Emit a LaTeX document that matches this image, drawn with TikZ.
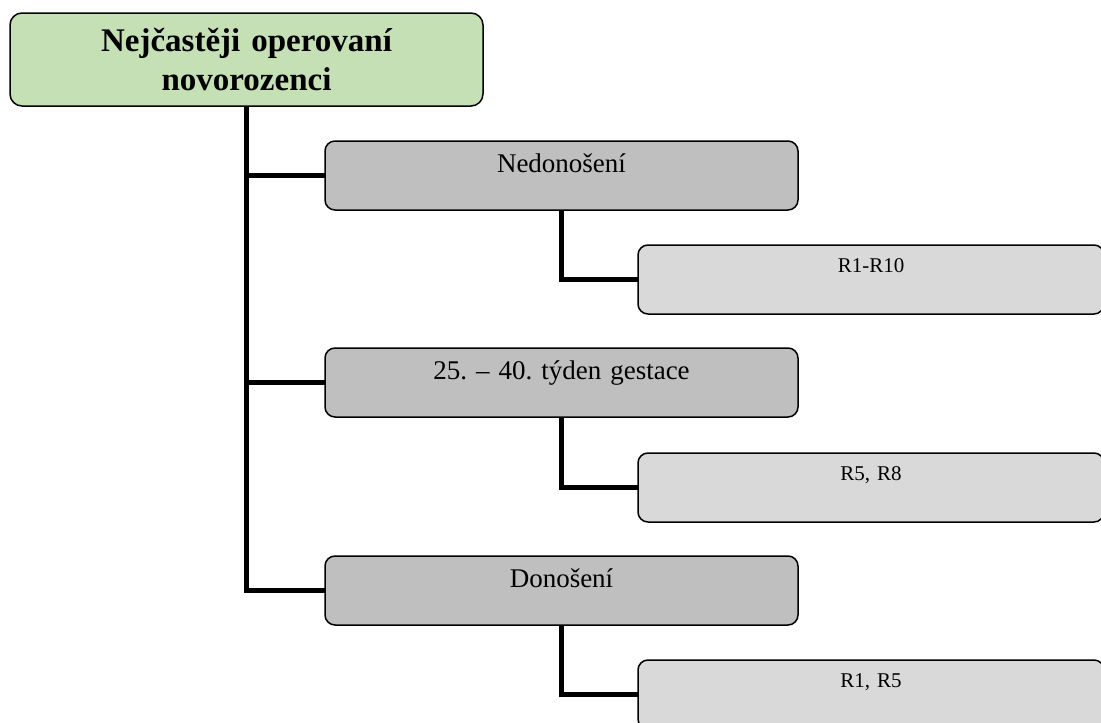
\documentclass[tikz,border=0pt]{standalone}
\usepackage{fontspec}
\setmainfont{Liberation Serif}
\definecolor{titlegreen}{HTML}{C5E0B4}
\definecolor{midgray}{HTML}{BFBFBF}
\definecolor{lightgray}{HTML}{D9D9D9}
\frenchspacing
\begin{document}
\begin{tikzpicture}[x=1pt,y=-1pt,
  every node/.style={inner sep=0pt, outer sep=0pt, anchor=north west, align=center},
  titlebox/.style={draw=black, line width=1.5pt, rounded corners=12pt, fill=titlegreen,
    minimum width=473pt, minimum height=93pt, text width=473pt,
    font=\fontsize{33}{39}\selectfont\bfseries},
  groupbox/.style={draw=black, line width=1.5pt, rounded corners=10pt, fill=midgray,
    minimum width=473pt, minimum height=69pt, text width=473pt,
    text height=31pt, text depth=38pt, font=\fontsize{27}{32}\selectfont},
  itembox/.style={draw=black, line width=1.5pt, rounded corners=10pt, fill=lightgray,
    minimum width=466pt, minimum height=69pt, text width=466pt,
    text height=27pt, text depth=42pt, font=\fontsize{21}{25}\selectfont},
  link/.style={draw=black, line width=5pt}]
\useasboundingbox (0,0) rectangle (1101,723);
\clip (0,0) rectangle (1101,723);

% root
\node[titlebox] (root) at (10,13) {Nejčastěji operovaní\\novorozenci};

% groups
\node[groupbox] (g1) at (325,141) {Nedonošení};
\node[groupbox] (g2) at (325,348) {25. – 40. týden gestace};
\node[groupbox] (g3) at (325,556) {Donošení};

% items
\node[itembox] (i1) at (638,245) {R1-R10};
\node[itembox] (i2) at (638,453) {R5, R8};
\node[itembox] (i3) at (638,660) {R1, R5};

% trunk and branches
\draw[link] (root.south) |- (g3.west);
\draw[link] (root.south |- g1.west) -- (g1.west);
\draw[link] (root.south |- g2.west) -- (g2.west);

% sub-branches
\draw[link] (g1.south) |- (i1.west);
\draw[link] (g2.south) |- (i2.west);
\draw[link] (g3.south) |- (i3.west);
\end{tikzpicture}
\end{document}
